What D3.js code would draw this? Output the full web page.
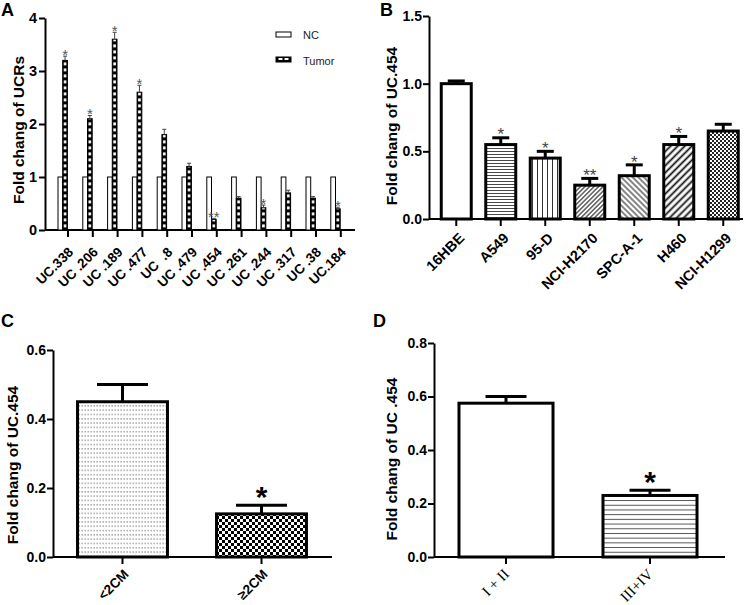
<!DOCTYPE html>
<html><head><meta charset="utf-8">
<script src="https://cdn.jsdelivr.net/npm/d3@7"></script>
<style>body{margin:0;background:#fff} text{white-space:pre}</style>
</head><body><svg id="c" width="744" height="605"></svg>
<script>
// ---------- DATA ----------
const aGroups = ["UC.338","UC .206","UC .189","UC .477","UC  .8","UC .479","UC .454","UC .261","UC .244","UC .317","UC .38","UC.184"];
const aSeries = ["NC","Tumor"];
const aNC = [1,1,1,1,1,1,1,1,1,1,1,1];
const aTumor = [3.2,2.1,3.6,2.6,1.8,1.2,0.2,0.6,0.42,0.7,0.6,0.4];
const aTumorErr = [0.08,0.06,0.13,0.13,0.1,0.06,0.02,0.03,0.05,0.05,0.03,0.03];
const aStars = ["*","*","*","*","","","**","","*","","","*"];
const aTicks = [0,1,2,3,4];

const bCats = ["16HBE","A549","95-D","NCI-H2170","SPC-A-1","H460","NCI-H1299"];
const bVals = [1.0,0.55,0.45,0.25,0.32,0.55,0.65];
const bErr = [0.02,0.05,0.05,0.05,0.08,0.06,0.05];
const bStars = ["","*","*","**","*","*",""];
const bTicks = [0,0.5,1.0,1.5];

const cCats = ["<2CM","≥2CM"];
const cVals = [0.45,0.125];
const cErr = [0.05,0.025];
const cStars = ["","*"];
const cTicks = [0,0.2,0.4,0.6];

const dCats = ["I + II","III+IV"];
const dVals = [0.575,0.23];
const dErr = [0.025,0.02];
const dStars = ["","*"];
const dTicks = [0,0.2,0.4,0.6,0.8];

// ---------- SETUP ----------
const FONT = "Arial, 'Liberation Sans', Helvetica, sans-serif";
const SERIF = "'Times New Roman', 'Liberation Serif', serif";
const svg = d3.select("#c");
const defs = svg.append("defs");

function linePattern(id, spacing, angle, width, color) {
  const p = defs.append("pattern").attr("id", id).attr("patternUnits","userSpaceOnUse")
    .attr("width", spacing).attr("height", spacing);
  if (angle) p.attr("patternTransform", `rotate(${angle})`);
  p.append("rect").attr("width",spacing).attr("height",spacing).attr("fill","#fff");
  p.append("line").attr("x1",0).attr("x2",spacing).attr("y1",spacing/2).attr("y2",spacing/2)
    .attr("stroke",color).attr("stroke-width",width);
  return `url(#${id})`;
}
function checkerPattern(id, s, color) {
  const p = defs.append("pattern").attr("id", id).attr("patternUnits","userSpaceOnUse")
    .attr("width", 2*s).attr("height", 2*s);
  p.append("rect").attr("width",2*s).attr("height",2*s).attr("fill","#fff");
  p.append("rect").attr("width",s).attr("height",s).attr("fill",color);
  p.append("rect").attr("x",s).attr("y",s).attr("width",s).attr("height",s).attr("fill",color);
  return `url(#${id})`;
}
function dotPattern(id, w, h, color) {
  const p = defs.append("pattern").attr("id", id).attr("patternUnits","userSpaceOnUse")
    .attr("width", w).attr("height", h);
  p.append("rect").attr("width",w).attr("height",h).attr("fill","#fff");
  p.append("rect").attr("x",0.5).attr("y",1).attr("width",1.3).attr("height",1.3).attr("fill",color);
  return `url(#${id})`;
}

function styleAxis(sel, fs) {
  sel.selectAll("path.domain").attr("stroke","#000").attr("stroke-width",2);
  sel.selectAll(".tick line").attr("stroke","#000").attr("stroke-width",2);
  sel.selectAll(".tick text").attr("fill","#000").attr("font-family",FONT)
    .attr("font-weight","bold").attr("font-size",fs);
}
function letter(t, x, y) {
  svg.append("text").attr("x",x).attr("y",y).text(t).attr("font-family",FONT)
    .attr("font-weight","bold").attr("font-size",18).attr("fill","#000");
}
function yLabel(t, cx, cy, fs) {
  svg.append("text").attr("transform",`translate(${cx + 0.36*fs},${cy}) rotate(-90)`)
    .attr("text-anchor","middle").text(t).attr("font-family",FONT)
    .attr("font-weight","bold").attr("font-size",fs).attr("fill","#000");
}

// ---------- PANEL A ----------
(function(){
  const y = d3.scaleLinear().domain([0,4]).range([230,18]);
  const x = d3.scaleBand().domain(aGroups).range([55.6,353.2]);
  const sub = d3.scaleBand().domain(aSeries).range([-10,-0.6]);
  const bw = sub.bandwidth();
  const axX = 45;
  const g = svg.append("g");

  const ya = g.append("g").attr("transform",`translate(${axX},0)`)
    .call(d3.axisLeft(y).tickValues(aTicks).tickFormat(d3.format("d")).tickSize(6).tickSizeOuter(0).tickPadding(2));
  styleAxis(ya, 14.5);
  const xa = g.append("g").attr("transform",`translate(0,${y(0)})`)
    .call(d3.axisBottom(x).tickSize(7).tickSizeOuter(0).tickFormat(""));
  xa.select("path.domain").remove();
  xa.append("line").attr("x1",axX).attr("x2",355).attr("stroke","#000").attr("stroke-width",2);
  styleAxis(xa, 13);
  aGroups.forEach(gname=>{
    const cx = x(gname)+x.bandwidth()/2;
    g.append("text").attr("transform",`translate(${cx+6},${y(0)+23}) rotate(-45)`)
      .attr("text-anchor","end").text(gname).attr("font-family",FONT).attr("font-weight","bold")
      .attr("font-size",13.5).attr("fill","#000");
  });

  aGroups.forEach((gname,i)=>{
    const cx = x(gname)+x.bandwidth()/2;
    const xt = cx + sub("Tumor");
    const p = defs.append("pattern").attr("id","tum"+i).attr("patternUnits","userSpaceOnUse")
      .attr("x",xt).attr("y",y(0)).attr("width",bw).attr("height",6);
    p.append("rect").attr("width",bw).attr("height",6).attr("fill","#000");
    p.append("rect").attr("x",(bw-2.6)/2).attr("y",0.4).attr("width",2.6).attr("height",3).attr("fill","#fff");
    g.append("rect").attr("x",cx+sub("NC")).attr("y",y(aNC[i])).attr("width",bw)
      .attr("height",y(0)-y(aNC[i])).attr("fill","#fff").attr("stroke","#000").attr("stroke-width",1);
    g.append("rect").attr("x",xt).attr("y",y(aTumor[i])).attr("width",bw)
      .attr("height",y(0)-y(aTumor[i])).attr("fill",`url(#tum${i})`).attr("stroke","#000").attr("stroke-width",1);
    const tx = xt + bw/2, top = y(aTumor[i]+aTumorErr[i]);
    g.append("line").attr("x1",tx).attr("x2",tx).attr("y1",y(aTumor[i])).attr("y2",top).attr("stroke","#444").attr("stroke-width",1);
    g.append("line").attr("x1",tx-2).attr("x2",tx+2).attr("y1",top).attr("y2",top).attr("stroke","#444").attr("stroke-width",1);
    if (aStars[i]) {
      g.append("text").attr("x",tx).attr("y",top-5+0.57*15).attr("text-anchor","middle")
        .text(aStars[i]).attr("font-family",FONT).attr("font-size",15).attr("fill","#555");
    }
  });

  const lg = svg.append("g");
  const lx = 276;
  lg.append("rect").attr("x",lx).attr("y",32).attr("width",15).attr("height",5).attr("fill","#fff").attr("stroke","#000").attr("stroke-width",1);
  lg.append("rect").attr("x",lx).attr("y",57).attr("width",15).attr("height",5).attr("fill","#000").attr("stroke","#000").attr("stroke-width",1);
  [0,1].forEach(k=>lg.append("rect").attr("x",lx+2.5+k*6).attr("y",58).attr("width",4).attr("height",2).attr("fill","#fff"));
  lg.append("text").attr("x",303).attr("y",39).text(aSeries[0]).attr("font-family",FONT).attr("font-size",11).attr("fill","#222");
  lg.append("text").attr("x",303).attr("y",65).text(aSeries[1]).attr("font-family",FONT).attr("font-size",11).attr("fill","#222");

  letter("A", 1, 16);
  yLabel("Fold chang of UCRs", 18, 130, 15.5);
})();

// ---------- SINGLE SERIES PANELS ----------
function panel(cfg) {
  const y = d3.scaleLinear().domain(cfg.yDomain).range(cfg.yRange);
  const x = d3.scaleBand().domain(cfg.cats).range(cfg.xRange);
  const g = svg.append("g");
  const ya = g.append("g").attr("transform",`translate(${cfg.axX},0)`)
    .call(d3.axisLeft(y).tickValues(cfg.ticks).tickFormat(d3.format(".1f")).tickSize(6).tickSizeOuter(0).tickPadding(1));
  styleAxis(ya, 14);
  const xa = g.append("g").attr("transform",`translate(0,${y(0)})`)
    .call(d3.axisBottom(x).tickSize(7).tickSizeOuter(0).tickFormat(""));
  xa.select("path.domain").remove();
  xa.append("line").attr("x1",cfg.axX).attr("x2",cfg.axEnd).attr("stroke","#000").attr("stroke-width",2);
  styleAxis(xa, 13);
  cfg.cats.forEach((c,i)=>{
    const cx = x(c)+x.bandwidth()/2;
    const bw = x.bandwidth()*cfg.barFrac;
    g.append("rect").attr("x",cx-bw/2).attr("y",y(cfg.vals[i])).attr("width",bw)
      .attr("height",y(0)-y(cfg.vals[i])).attr("fill",cfg.fills[i]).attr("stroke","#000").attr("stroke-width",3);
    const top = y(cfg.vals[i]+cfg.errs[i]);
    g.append("line").attr("x1",cx).attr("x2",cx).attr("y1",y(cfg.vals[i])).attr("y2",top).attr("stroke","#000").attr("stroke-width",3);
    g.append("line").attr("x1",cx-cfg.capW/2).attr("x2",cx+cfg.capW/2).attr("y1",top).attr("y2",top).attr("stroke","#000").attr("stroke-width",3);
    if (cfg.stars[i]) {
      g.append("text").attr("x",cx).attr("y",top-cfg.starGap+0.57*cfg.starFs).attr("text-anchor","middle")
        .text(cfg.stars[i]).attr("font-family",FONT).attr("font-weight",cfg.starWeight)
        .attr("font-size",cfg.starFs).attr("fill",cfg.starColor);
    }
    g.append("text").attr("transform",`translate(${cx+cfg.lblDx},${y(0)+cfg.lblDy}) rotate(-45)`)
      .attr("text-anchor","end").text(c).attr("font-family",cfg.lblFont).attr("font-weight",cfg.lblWeight)
      .attr("font-size",cfg.lblFs).attr("fill","#000");
  });
  letter(cfg.letter[0], cfg.letter[1], cfg.letter[2]);
  yLabel(cfg.label, cfg.labelPos[0], cfg.labelPos[1], 15.5);
}

const bFills = [
  "#fff",
  linePattern("hl3", 3, 0, 0.9, "#333"),
  linePattern("vl5", 5, 90, 1, "#333"),
  linePattern("d1", 3.2, -45, 1.1, "#222"),
  linePattern("d2", 4, 45, 1.1, "#222"),
  linePattern("d3", 5, -45, 1.8, "#111"),
  checkerPattern("ck2", 2, "#222")
];
panel({cats:bCats, vals:bVals, errs:bErr, stars:bStars, ticks:bTicks, fills:bFills,
  yDomain:[0,1.5], yRange:[219,16], xRange:[434,745.5], axX:429, axEnd:743, barFrac:0.674, capW:17,
  starFs:17, starGap:7, starColor:"#444", starWeight:"normal",
  lblDx:9, lblDy:20, lblFs:14.5, lblFont:FONT, lblWeight:"bold",
  letter:["B",380,16], label:"Fold chang of UC.454", labelPos:[391,126]});

panel({cats:cCats, vals:cVals, errs:cErr, stars:cStars, ticks:cTicks,
  fills:[dotPattern("dots",3,4.3,"#888"), checkerPattern("ck3",3,"#000")],
  yDomain:[0,0.6], yRange:[557,350], xRange:[53,331], axX:53, axEnd:332, barFrac:0.647, capW:51,
  starFs:30, starGap:15, starColor:"#000", starWeight:"bold",
  lblDx:7, lblDy:18, lblFs:13.5, lblFont:FONT, lblWeight:"bold",
  letter:["C",1,327], label:"Fold chang of UC.454", labelPos:[12.5,465]});

panel({cats:dCats, vals:dVals, errs:dErr, stars:dStars, ticks:dTicks,
  fills:["#fff", linePattern("hl5", 4.7, 0, 1, "#555")],
  yDomain:[0,0.8], yRange:[557,343], xRange:[434,722], axX:434, axEnd:725, barFrac:0.653, capW:41,
  starFs:30, starGap:15, starColor:"#000", starWeight:"bold",
  lblDx:4, lblDy:18, lblFs:15, lblFont:SERIF, lblWeight:"normal",
  letter:["D",373,327], label:"Fold chang of UC .454", labelPos:[391,459]});
</script>
</body></html>
